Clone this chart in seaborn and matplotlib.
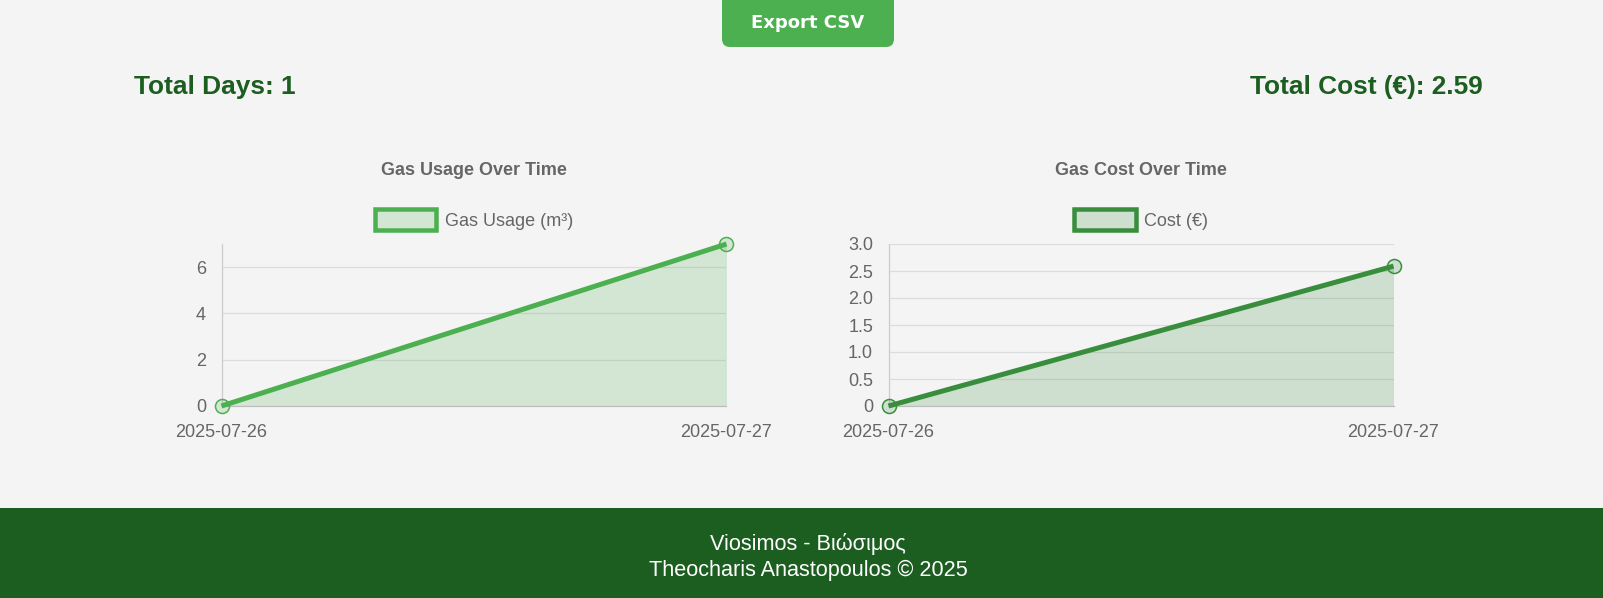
import pandas as pd
import matplotlib.pyplot as plt
import seaborn as sns
from matplotlib.patches import FancyBboxPatch, Patch, Rectangle

# data
dates = ['2025-07-26', '2025-07-27']
usage = [0, 7]
cost = [0, 2.59]
usage_ticks = [0, 2, 4, 6]
cost_ticks = [0, 0.5, 1.0, 1.5, 2.0, 2.5, 3.0]
cost_tick_labels = ['0', '0.5', '1.0', '1.5', '2.0', '2.5', '3.0']

W, H = 1603, 598
BG = '#f4f4f4'
DARK = '#1b5e20'
GREY = '#666666'
GRID = '#dcdcdc'

sns.set_theme(style='white')
plt.rcParams['font.family'] = ['Liberation Sans', 'DejaVu Sans']


def px(n):
    # pixels to points
    return n * 0.72


def draw_chart(rect, values, color, title, label, ymax, ticks, tick_labels):
    left, top, right, bottom = rect
    ax = fig.add_axes([left / W, 1 - bottom / H, (right - left) / W, (bottom - top) / H])
    ax.set_facecolor('none')
    df = pd.DataFrame({'date': dates, 'value': values})
    rgb = plt.matplotlib.colors.to_rgb(color)
    ax.fill_between(range(len(dates)), df['value'], 0, color=color, alpha=0.2, lw=0, zorder=2)
    sns.lineplot(
        data=df, x='date', y='value', ax=ax,
        color=color, linewidth=px(5), zorder=4, solid_capstyle='butt',
        marker='o', markersize=px(14), markeredgewidth=px(1.5),
        markeredgecolor=color, markerfacecolor=(*rgb, 0.2), clip_on=False,
    )
    ax.set_xlim(0, len(dates) - 1)
    ax.set_ylim(0, ymax)
    ax.set_xticks(range(len(dates)), dates)
    ax.set_yticks(ticks, tick_labels)
    ax.set(xlabel='', ylabel='')
    ax.grid(True, color=GRID, lw=px(1.2), zorder=1)
    ax.set_axisbelow(True)
    ax.tick_params(axis='y', length=px(12), width=px(1.2), color=GRID, labelcolor=GREY,
                   labelsize=px(18), pad=px(3.5))
    ax.tick_params(axis='x', length=px(12), width=px(1.2), color=GRID, labelcolor=GREY,
                   labelsize=px(18), pad=px(6))
    sns.despine(ax=ax, top=True, right=True)
    ax.spines['left'].set_color('#cccccc')
    ax.spines['bottom'].set_color('#bdbdbd')
    ax.spines['left'].set_linewidth(px(1.2))
    ax.spines['bottom'].set_linewidth(px(1.2))
    ax.set_title(title, fontsize=px(18), fontweight='bold', color=GREY, pad=px(69))
    handle = Patch(facecolor=(*rgb, 0.2), edgecolor=color, linewidth=px(4.5))
    ax.legend(
        handles=[handle], labels=[label], loc='center', bbox_to_anchor=(0.5, 1.15),
        frameon=False, fontsize=px(18), labelcolor=GREY,
        handlelength=3.4, handleheight=1.4, handletextpad=0.45, borderaxespad=0,
    )
    return ax


fig = plt.figure(figsize=(W / 100, H / 100), dpi=100, facecolor=BG)

# export button and footer
fig.add_artist(FancyBboxPatch((722 / W, 1 - 47 / H), 172 / W, 67 / H, boxstyle='round,pad=0,rounding_size=0.005',
                              mutation_aspect=W / H, transform=fig.transFigure, fc='#4caf50', ec='none'))
fig.text(808 / W, 1 - 22.5 / H, 'Export CSV', color='white', fontsize=px(18), fontweight='bold',
         family='DejaVu Sans', ha='center', va='center')
fig.add_artist(Rectangle((0, 0), 1, (H - 508) / H, transform=fig.transFigure, fc=DARK, ec='none'))
fig.text(808 / W, 1 - 544 / H, 'Viosimos - Βιώσιμος', color='white', fontsize=px(21.7), ha='center', va='center')
fig.text(808 / W, 1 - 570 / H, 'Theocharis Anastopoulos © 2025', color='white', fontsize=px(21.7), ha='center', va='center')

# summary lines
fig.text(134 / W, 1 - 87 / H, 'Total Days: 1', color=DARK, fontsize=px(26.2), fontweight='bold', va='center')
fig.text(1483 / W, 1 - 87 / H, 'Total Cost (€): 2.59', color=DARK, fontsize=px(26.2), fontweight='bold', ha='right', va='center')

draw_chart((221.5, 244, 726.5, 406), usage, '#4caf50', 'Gas Usage Over Time', 'Gas Usage (m³)', 7,
           usage_ticks, [str(t) for t in usage_ticks])
draw_chart((888.5, 244, 1393.5, 406), cost, '#388e3c', 'Gas Cost Over Time', 'Cost (€)', 3,
           cost_ticks, cost_tick_labels)

fig.savefig('out.png', dpi=100, facecolor=BG)
